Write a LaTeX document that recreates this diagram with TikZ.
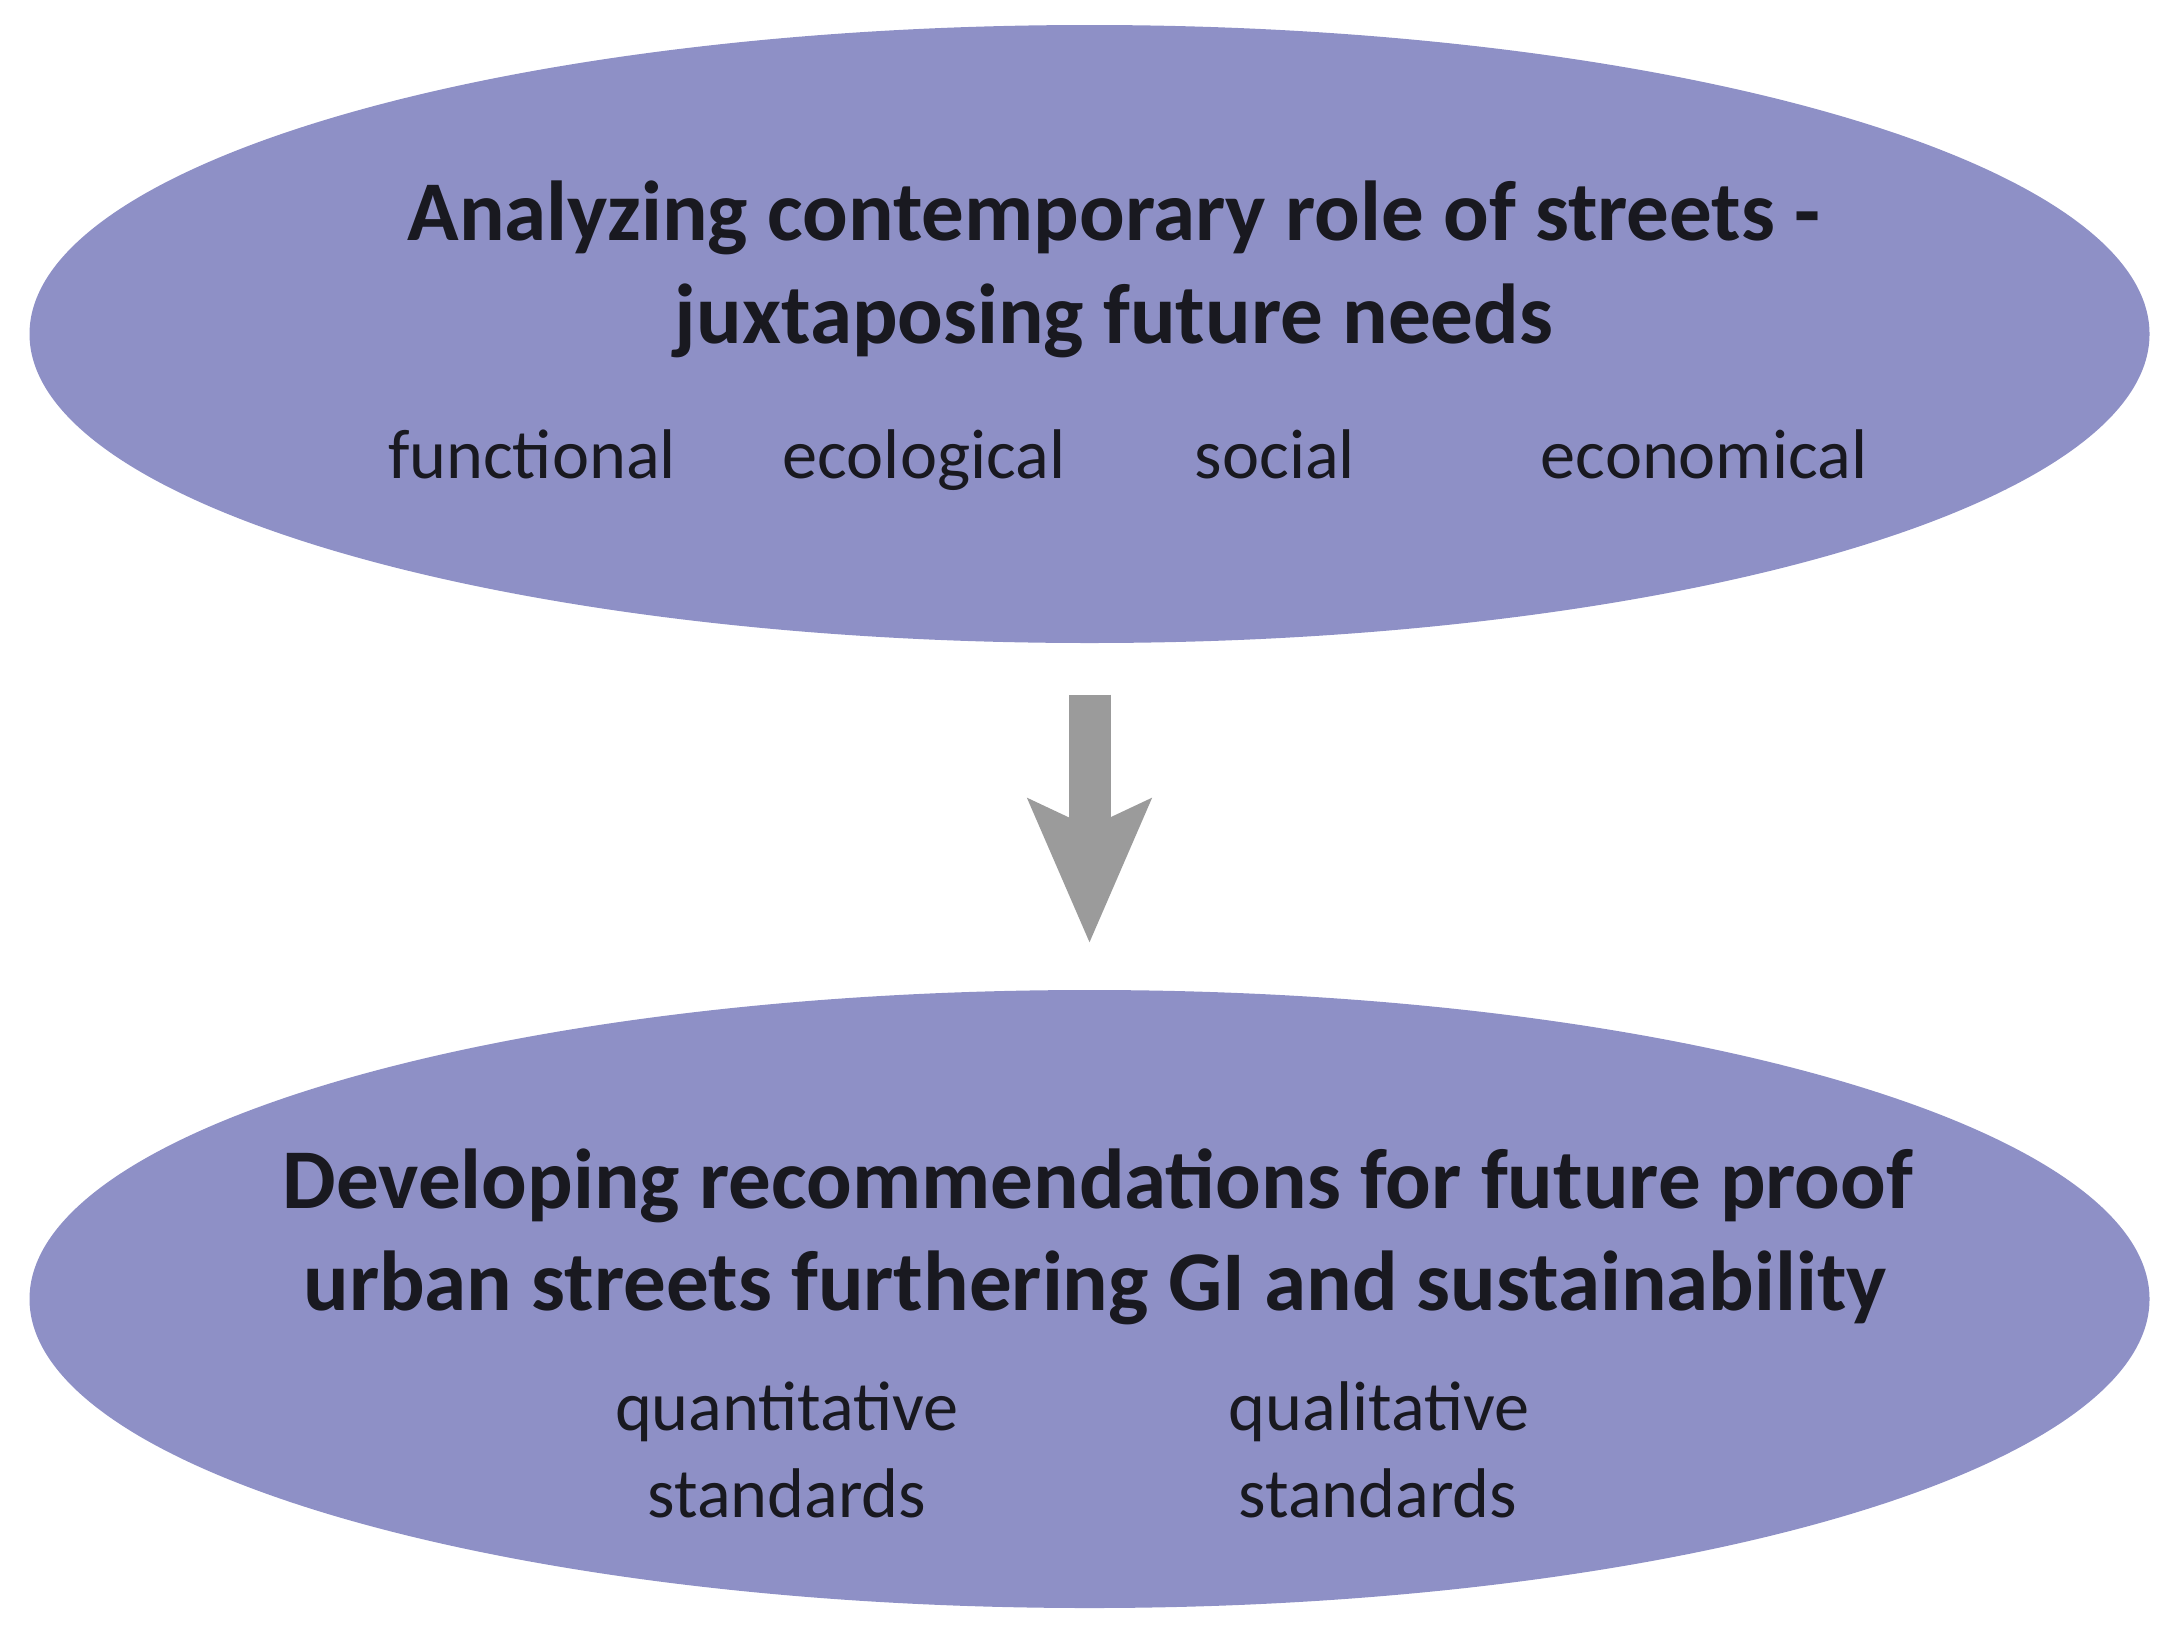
\documentclass[tikz,border=0pt]{standalone}
\usepackage{fontspec}
\setmainfont{Carlito}
\usetikzlibrary{shapes.geometric,arrows.meta}
\definecolor{blobfill}{RGB}{142,144,198}
\definecolor{arrowgray}{RGB}{155,155,155}
\definecolor{inkdark}{RGB}{25,25,32}
\tikzset{
	blob/.style={ellipse, fill=blobfill, minimum width=21.2cm, minimum height=6.18cm, inner sep=0pt},
	headline/.style={anchor=base, inner sep=0pt, text=inkdark, font=\fontsize{24.2}{29}\selectfont\bfseries},
	aspect/.style={anchor=base, inner sep=0pt, text=inkdark, font=\fontsize{20}{24}\selectfont}
}

\begin{document}
\begin{tikzpicture}
			%%%%% START %%%%%
			
			\useasboundingbox (0, 0) rectangle (21.63, -16.31);
			
			\node[blob] (analysis) at (10.895, -3.34) {};
			\node[blob] (recommend) at (10.895, -12.99) {};
			
			\draw[arrowgray, line width=0.42cm, shorten <=0.51cm, shorten >=0.46cm, -{Stealth[length=1.42cm, width=1.19cm, inset=0.26cm]}] (analysis.south) -- (recommend.north);
			
			\node[headline] (title1a) at (11.14, -2.40) {Analyzing contemporary role of streets -};
			\node[headline] (title1b) at (11.14, -3.43) {juxtaposing future needs};
			
			\node[aspect] (functional) at (5.32, -4.78) {functional};
			\node[aspect] (ecological) at (9.24, -4.78) {ecological};
			\node[aspect] (social) at (12.75, -4.78) {social};
			\node[aspect] (economical) at (17.04, -4.78) {economical};
			
			\node[headline] (title2a) at (10.98, -12.08) {Developing recommendations for future proof};
			\node[headline] (title2b) at (10.95, -13.10) {urban streets furthering GI and sustainability};
			
			\node[aspect] (quantitative) at (7.87, -14.30) {quantitative};
			\node[aspect] (quantstd) at (7.87, -15.17) {standards};
			\node[aspect] (qualitative) at (13.79, -14.30) {qualitative};
			\node[aspect] (qualstd) at (13.78, -15.17) {standards};
			
			%%%%% END %%%%%
\end{tikzpicture}
\end{document}
